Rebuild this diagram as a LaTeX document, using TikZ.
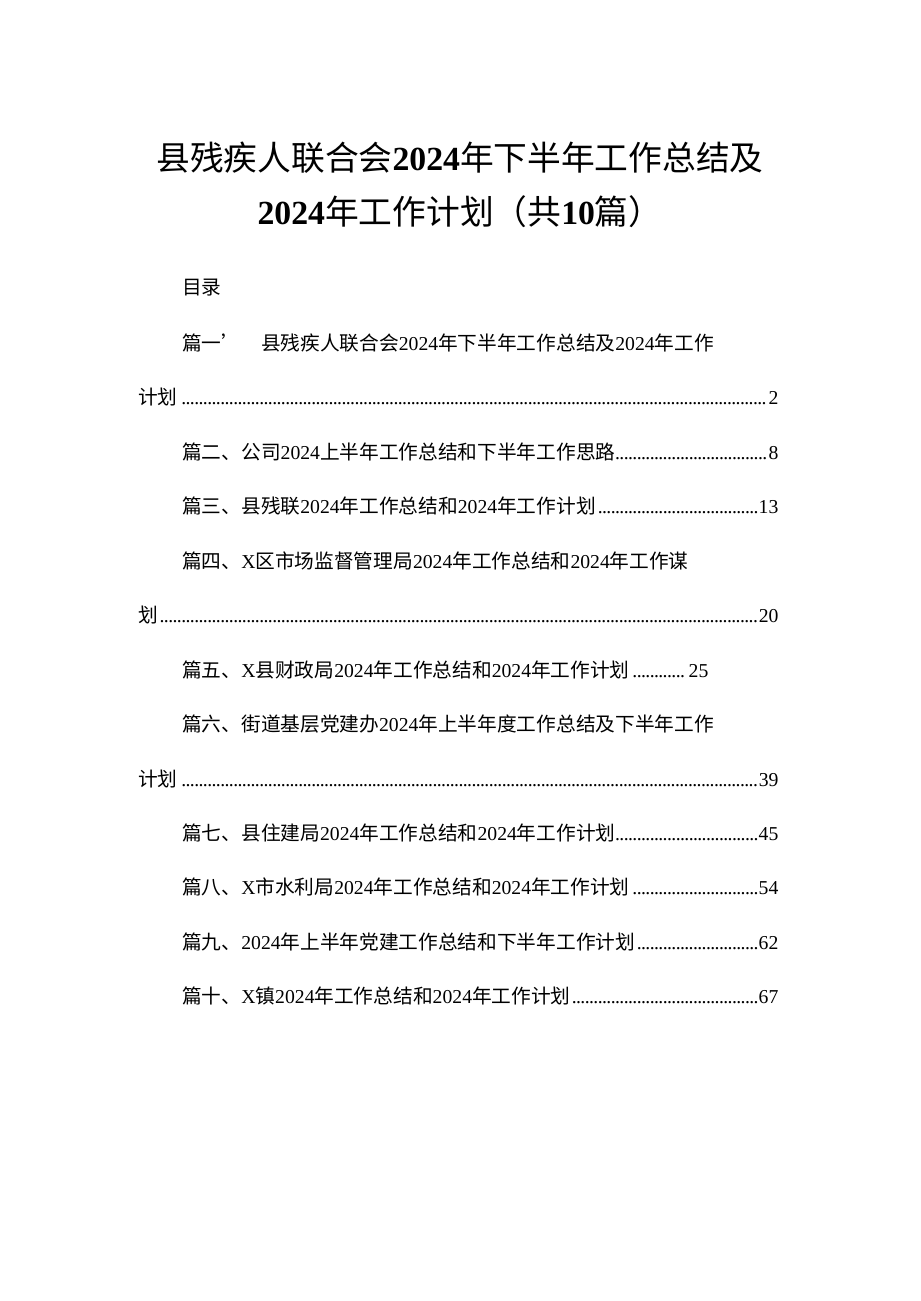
\documentclass[tikz,border=0pt]{standalone}
\usepackage{fontspec}
\setmainfont{Noto Sans CJK SC}
\newfontfamily\lat{Liberation Serif}
\newcommand{\nm}[1]{{\lat #1}}
\newcommand{\bn}[1]{{\lat\bfseries #1}}
\newcommand{\dotlead}{\leaders\hbox to 0.22em{\hss\lat.\hss}\hfill}
\tikzset{
  tocline/.style={anchor=west,inner sep=0pt,font=\fontsize{14}{16}\selectfont},
  titleline/.style={inner sep=0pt,font=\fontsize{24}{28}\selectfont}
}
\begin{document}
\begin{tikzpicture}[x=0.025cm,y=-0.025cm]
  \useasboundingbox[fill=white] (0,0) rectangle (920,1301);
  % title
  \node[titleline] (t1) at (460,158) {县残疾人联合会\bn{2024}年下半年工作总结及};
  \node[titleline] (t2) at (460,212) {\bn{2024}年工作计划（共\bn{10}篇）};
  % contents
  \node[tocline] (ml) at (182,288) {目录};
  \node[tocline] (p1) at (182,343) {篇一’\quad 县残疾人联合会\nm{2024}年下半年工作总结及\nm{2024}年工作};
  \node[tocline] (p1b) at (138,397) {\makebox[16cm]{计划\dotlead\nm{2}}};
  \node[tocline] (p2) at (182,452) {\makebox[14.9cm]{篇二、公司\nm{2024}上半年工作总结和下半年工作思路\dotlead\nm{8}}};
  \node[tocline] (p3) at (182,506) {\makebox[14.9cm]{篇三、县残联\nm{2024}年工作总结和\nm{2024}年工作计划\dotlead\nm{13}}};
  \node[tocline] (p4) at (182,561) {篇四、\nm{X}区市场监督管理局\nm{2024}年工作总结和\nm{2024}年工作谋};
  \node[tocline] (p4b) at (138,615) {\makebox[16cm]{划\dotlead\nm{20}}};
  \node[tocline] (p5) at (182,670) {\makebox[13.15cm]{篇五、\nm{X}县财政局\nm{2024}年工作总结和\nm{2024}年工作计划\dotlead\nm{25}}};
  \node[tocline] (p6) at (182,724) {篇六、街道基层党建办\nm{2024}年上半年度工作总结及下半年工作};
  \node[tocline] (p6b) at (138,779) {\makebox[16cm]{计划\dotlead\nm{39}}};
  \node[tocline] (p7) at (182,833) {\makebox[14.9cm]{篇七、县住建局\nm{2024}年工作总结和\nm{2024}年工作计划\dotlead\nm{45}}};
  \node[tocline] (p8) at (182,887) {\makebox[14.9cm]{篇八、\nm{X}市水利局\nm{2024}年工作总结和\nm{2024}年工作计划\dotlead\nm{54}}};
  \node[tocline] (p9) at (182,942) {\makebox[14.9cm]{篇九、\nm{2024}年上半年党建工作总结和下半年工作计划\dotlead\nm{62}}};
  \node[tocline] (p10) at (182,996) {\makebox[14.9cm]{篇十、\nm{X}镇\nm{2024}年工作总结和\nm{2024}年工作计划\dotlead\nm{67}}};
\end{tikzpicture}
\end{document}
